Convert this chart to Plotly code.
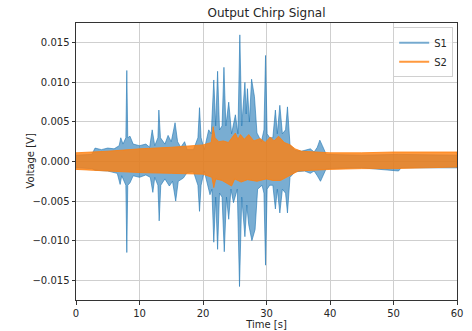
import plotly.graph_objects as go

# ---- S1 envelope (peaks) ----
s1_up_t = [0, 2.5, 3.0, 4.0, 5.0, 6.0, 6.8, 7.05, 7.4, 7.85, 8.0, 8.15, 8.5, 9.0, 10.0, 11.0, 11.6, 12.0, 12.4,
           12.9, 13.05, 13.3, 14.0, 14.5, 15.0, 15.6, 16.0, 16.5, 17.1, 17.5, 18.5, 19.2, 19.45, 19.7, 20.2,
           20.9, 21.3, 21.7, 22.0, 22.3, 22.6, 23.0, 23.3, 23.6, 24.05, 24.5, 25.1, 25.5, 25.8, 26.1, 26.6,
           26.8, 27.0, 27.3, 27.65, 28.1, 28.5, 29.2, 29.6, 29.85, 30.1, 30.5, 31.0, 31.4, 31.7, 32.1, 32.5,
           33.0, 33.3, 33.7, 34.5, 35.5, 36.9, 37.5, 38.0, 38.4, 38.8, 39.4, 45, 50.8, 60]
s1_up_v = [0.0008, 0.0009, 0.0017, 0.0015, 0.0017, 0.0016, 0.0020, 0.0030, 0.0022, 0.0030, 0.0115, 0.0030, 0.0032,
           0.0022, 0.0020, 0.0022, 0.0018, 0.0040, 0.0020, 0.0030, 0.0065, 0.0030, 0.0022, 0.0033, 0.0025,
           0.0049, 0.0025, 0.0018, 0.0025, 0.0015, 0.0015, 0.0030, 0.0068, 0.0030, 0.0015, 0.0040, 0.0035,
           0.0103, 0.0045, 0.0114, 0.0040, 0.0045, 0.0119, 0.0045, 0.0075, 0.0035, 0.0059, 0.0035, 0.0160,
           0.0045, 0.0100, 0.0060, 0.0092, 0.0050, 0.0104, 0.0082, 0.0036, 0.0025, 0.0040, 0.0134, 0.0035,
           0.0030, 0.0030, 0.0065, 0.0035, 0.0071, 0.0035, 0.0040, 0.0069, 0.0021, 0.0014, 0.0013, 0.0016,
           0.0012, 0.0018, 0.0027, 0.0020, 0.0009, 0.0008, 0.0009, 0.0008]

s1_lo_t = [0, 2.5, 3.0, 5.0, 6.5, 6.95, 7.2, 7.85, 8.0, 8.15, 8.5, 9.0, 10.0, 11.0, 11.7, 12.1, 12.4, 12.9, 13.1,
           13.35, 14.0, 14.7, 15.2, 15.7, 16.1, 16.9, 17.5, 18.5, 19.2, 19.45, 19.7, 20.2, 21.1, 21.4, 21.7,
           22.0, 22.3, 22.6, 23.0, 23.35, 23.7, 24.05, 24.4, 24.8, 25.4, 25.75, 26.1, 26.6, 26.9, 27.2, 27.7,
           28.2, 28.6, 29.3, 29.6, 29.85, 30.1, 30.5, 31.0, 31.4, 31.7, 32.1, 32.5, 33.0, 33.3, 33.7, 34.5,
           36.0, 36.9, 37.5, 38.0, 38.5, 38.9, 39.4, 45, 50.8, 51.2, 60]
s1_lo_v = [-0.0008, -0.0009, -0.0011, -0.0012, -0.0015, -0.0029, -0.0018, -0.0030, -0.0115, -0.0030, -0.0027,
           -0.0018, -0.0020, -0.0017, -0.0020, -0.0039, -0.0020, -0.0030, -0.0075, -0.0030, -0.0022, -0.0031,
           -0.0025, -0.0050, -0.0025, -0.0021, -0.0014, -0.0013, -0.0030, -0.0063, -0.0030, -0.0012, -0.0042,
           -0.0035, -0.0102, -0.0045, -0.0111, -0.0040, -0.0045, -0.0114, -0.0045, -0.0073, -0.0035, -0.0052,
           -0.0035, -0.0158, -0.0045, -0.0095, -0.0055, -0.0080, -0.0100, -0.0086, -0.0035, -0.0030, -0.0040,
           -0.0131, -0.0035, -0.0030, -0.0030, -0.0060, -0.0035, -0.0065, -0.0035, -0.0040, -0.0065, -0.0020,
           -0.0013, -0.0012, -0.0015, -0.0012, -0.0018, -0.0025, -0.0018, -0.0009, -0.0008, -0.0012, -0.0008,
           -0.0008]

# ---- S2 envelope ----
s2_up_t = [0, 5, 10, 15, 20, 21.3, 21.6, 21.9, 22.5, 23.2, 24.0, 25.1, 25.5, 25.9, 26.5, 27.2, 28.0, 29.0, 29.8,
           30.6, 31.2, 31.9, 32.8, 33.75, 34.5, 35.5, 40, 45, 50, 55, 60]
s2_up_v = [0.0011, 0.0013, 0.0016, 0.0018, 0.0021, 0.0024, 0.0044, 0.0030, 0.0025, 0.0026, 0.0024, 0.0036, 0.0028,
           0.0034, 0.0028, 0.0034, 0.0026, 0.0029, 0.0024, 0.0031, 0.0026, 0.0032, 0.0024, 0.0021, 0.0016,
           0.0013, 0.0011, 0.0011, 0.0012, 0.0012, 0.0012]
s2_lo_t = [0, 5, 10, 15, 20, 21.4, 21.7, 22.0, 23.0, 24.5, 25.0, 26.0, 27.0, 28.5, 30.0, 31.0, 32.2, 33.5, 35.0,
           40, 45, 50, 55, 60]
s2_lo_v = [-0.0010, -0.0012, -0.0014, -0.0015, -0.0016, -0.0020, -0.0033, -0.0022, -0.0024, -0.0031, -0.0022,
           -0.0026, -0.0023, -0.0025, -0.0022, -0.0024, -0.0024, -0.0018, -0.0012, -0.0010, -0.0009, -0.0009,
           -0.0008, -0.0007]

x_ticks = [0, 10, 20, 30, 40, 50, 60]
y_ticks = [-0.015, -0.010, -0.005, 0.000, 0.005, 0.010, 0.015]

BLUE = "rgba(31,119,180,0.6)"
ORANGE = "rgba(255,127,14,0.8)"

fig = go.Figure()


def band(t_up, v_up, t_lo, v_lo, color):
    xs = list(t_up) + list(reversed(t_lo))
    ys = list(v_up) + list(reversed(v_lo))
    return go.Scatter(x=xs, y=ys, mode="lines", fill="toself", fillcolor=color,
                      line=dict(color=color, width=1), showlegend=False, hoverinfo="skip")


fig.add_trace(band(s1_up_t, s1_up_v, s1_lo_t, s1_lo_v, BLUE))
fig.add_trace(band(s2_up_t, s2_up_v, s2_lo_t, s2_lo_v, ORANGE))
# legend entries
fig.add_trace(go.Scatter(x=[None], y=[None], mode="lines", name="S1", line=dict(color=BLUE, width=2)))
fig.add_trace(go.Scatter(x=[None], y=[None], mode="lines", name="S2", line=dict(color=ORANGE, width=2)))

axis_common = dict(showline=True, mirror=True, linecolor="#333333", linewidth=1,
                   showgrid=True, gridcolor="#cfcfcf", gridwidth=1, zeroline=False,
                   ticks="outside", ticklen=3.5, tickcolor="#333333", automargin=False,
                   tickfont=dict(size=10, color="#262626"))

fig.update_layout(
    width=472, height=331,
    margin=dict(l=76, r=15, t=23, b=31),
    paper_bgcolor="white", plot_bgcolor="white",
    font=dict(family="DejaVu Sans", size=10, color="#262626"),
    title=dict(text="Output Chirp Signal", x=0.5, xref="paper", xanchor="center",
               y=1, yref="paper", yanchor="bottom", pad=dict(b=6), font=dict(size=12)),
    xaxis=dict(range=[0, 60], tickvals=x_ticks, ticktext=[str(v) for v in x_ticks],
               title=dict(text="Time [s]", standoff=2, font=dict(size=10)), **axis_common),
    yaxis=dict(range=[-0.0175, 0.0175], tickvals=y_ticks, tickformat=".3f", **axis_common),
    legend=dict(x=0.99, y=0.985, xanchor="right", yanchor="top", bgcolor="rgba(255,255,255,0.8)",
                bordercolor="#d0d0d0", borderwidth=1, font=dict(size=10), itemwidth=30,
                tracegroupgap=0),
    annotations=[dict(text="Voltage [V]", textangle=-90, xref="paper", yref="paper", x=0, y=0.5,
                      xanchor="center", yanchor="middle", xshift=-46, showarrow=False,
                      font=dict(size=10, color="#262626"))],
)

fig.write_html("out.html")
